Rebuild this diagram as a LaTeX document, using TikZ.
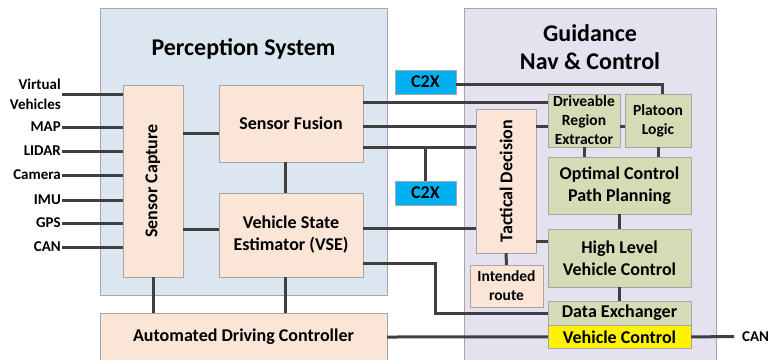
\documentclass[tikz,border=0pt]{standalone}
\usepackage{fontspec}
\setmainfont{Carlito}
\usetikzlibrary{positioning}
\definecolor{percepbg}{HTML}{DCE6F1}
\definecolor{guidbg}{HTML}{E5E1EE}
\definecolor{peachfill}{HTML}{FBE5D7}
\definecolor{gncfill}{HTML}{D5DCB5}
\definecolor{c2xblue}{HTML}{00B0F0}
\definecolor{wiregray}{HTML}{404040}
\definecolor{edgegray}{HTML}{A6A6A6}
\tikzstyle{system} = [rectangle, draw=edgegray, inner sep=0pt]
\tikzstyle{title} = [font=\bfseries\fontsize{24}{28}\selectfont, align=center]
\tikzstyle{block} = [rectangle, draw=edgegray, fill=peachfill, inner sep=0pt, align=center, font=\bfseries\fontsize{18}{22}\selectfont]
\tikzstyle{smallblock} = [block, font=\bfseries\fontsize{15.5}{19}\selectfont]
\tikzstyle{gncblock} = [block, fill=gncfill]
\tikzstyle{c2x} = [block, fill=c2xblue, minimum width=61pt, minimum height=24pt]
\tikzstyle{signal} = [anchor=east, inner sep=1pt, align=right, font=\bfseries\fontsize{15}{20}\selectfont]
\tikzstyle{link} = [line width=3pt, draw=wiregray]

\begin{document}
\begin{tikzpicture}[x=1pt, y=-1pt]
\useasboundingbox (0,0) rectangle (773,359);

\node (percep) [system, fill=percepbg, minimum width=287pt, minimum height=287pt] at (243.5,151.5) {};
\node (guid) [system, fill=guidbg, minimum width=252pt, minimum height=354pt] at (590,185) {};

\node (percept) [title] at (243.5,49) {Perception System};
\node (guidt) [title] at (590,47) {Guidance\\Nav \& Control};

\node (capture) [block, minimum width=60pt, minimum height=192pt] at (153,181) {\rotatebox{90}{Sensor Capture}};

\node (fusion) [block, minimum width=144pt, minimum height=77pt] at (291,123.5) {Sensor Fusion};

\node (vse) [block, minimum width=144pt, minimum height=84pt] at (291,235) {Vehicle State\\Estimator (VSE)};

\node (adc) [block, minimum width=287pt, minimum height=48pt] at (243.5,337) {Automated Driving Controller};

\node (c2xa) [c2x] at (425.5,82) {C2X};
\node (c2xb) [c2x] at (425.5,193) {C2X};

\node (tactical) [block, minimum width=60pt, minimum height=144pt] at (506,181) {\rotatebox{90}{Tactical Decision}};

\node (route) [smallblock, minimum width=73pt, minimum height=42pt] at (506.5,286) {Intended\\route};

\node (region) [smallblock, fill=gncfill, minimum width=72pt, minimum height=53pt] at (584,120.5) {Driveable\\Region\\Extractor};
\node (platoon) [smallblock, fill=gncfill, minimum width=66pt, minimum height=53pt] at (658,120.5) {Platoon\\Logic};

\node (optimal) [gncblock, minimum width=143pt, minimum height=57pt] at (619.5,185.5) {Optimal Control\\Path Planning};

\node (highlevel) [gncblock, minimum width=143pt, minimum height=58pt] at (619.5,258) {High Level\\Vehicle Control};

\node (exchanger) [gncblock, minimum width=143pt, minimum height=24pt] at (619.5,313) {Data Exchanger};
\node (vcontrol) [gncblock, fill=yellow, minimum width=143pt, minimum height=23pt, below=0pt of exchanger] {Vehicle Control};

\node (virtual) [signal] at (62,94) {Virtual\\Vehicles};
\node (map) [signal] at (62,127) {MAP};
\node (lidar) [signal] at (62,151) {LIDAR};
\node (camera) [signal] at (62,175) {Camera};
\node (imu) [signal] at (62,200) {IMU};
\node (gps) [signal] at (62,223) {GPS};
\node (canin) [signal] at (62,247) {CAN};
\node (canout) [signal, anchor=west] at (741,336.5) {CAN};

\coordinate (f1) at ([yshift=-18pt]fusion.north east);
\coordinate (f2) at ([yshift=-42pt]fusion.north east);
\coordinate (f3) at ([yshift=-63pt]fusion.north east);
\coordinate (s1) at ([yshift=-49pt]fusion.north west);
\coordinate (s2) at ([yshift=-37pt]vse.north west);
\coordinate (v1) at ([yshift=-36pt]vse.north east);
\coordinate (v2) at ([yshift=-71pt]vse.north east);
\coordinate (fv) at ([xshift=-6pt]fusion.south);
\coordinate (vs) at ([xshift=-6pt]vse.south);
\coordinate (bend) at ([xshift=-112pt]exchanger.west);
\coordinate (t1) at ([yshift=17pt]highlevel.west);
\coordinate (c1) at ([yshift=-2pt]c2xa.east);

\draw [link] (virtual.east |- virtual) -- (capture.west |- virtual);
\draw [link] (map.east) -- (map.east -| capture.west);
\draw [link] (lidar.east) -- (lidar.east -| capture.west);
\draw [link] (camera.east) -- (camera.east -| capture.west);
\draw [link] (imu.east) -- (imu.east -| capture.west);
\draw [link] (gps.east) -- (gps.east -| capture.west);
\draw [link] (canin.east) -- (canin.east -| capture.west);
\draw [link] (s1 -| capture.east) -- (s1);
\draw [link] (s2 -| capture.east) -- (s2);
\draw [link] (fv) -- (fv |- vse.north);
\draw [link] (capture.south) -- (capture.south |- adc.north);
\draw [link] (vs) -- (vs |- adc.north);
\draw [link] (f1) -- (f1 -| region.west);
\draw [link] (f2) -- (f2 -| tactical.west);
\draw [link] (f3) -- (f3 -| tactical.west);
\draw [link] (c2xb.north) -- (c2xb.north |- f3);
\draw [link] (c1) -| ([xshift=4pt]platoon.north);
\draw [link] (f2 -| tactical.east) -- (f2 -| region.west);
\draw [link] (f2 -| region.east) -- (f2 -| platoon.west);
\draw [link] (region.south) -- (region.south |- optimal.north);
\draw [link] (platoon.south) -- (platoon.south |- optimal.north);
\draw [link] (optimal.south) -- (highlevel.north);
\draw [link] (highlevel.south) -- (exchanger.north);
\draw [link] (v1) -- (v1 -| tactical.west);
\draw [link] (v2) -| (bend) -- (exchanger.west);
\draw [link] (t1 -| tactical.east) -- (t1);
\draw [link] (tactical.south) -- (route.north);
\draw [link] (adc.east) -- (vcontrol.west);
\draw [link, shorten >=7pt] (vcontrol.east) -- (canout.west);

\end{tikzpicture}
\end{document}
